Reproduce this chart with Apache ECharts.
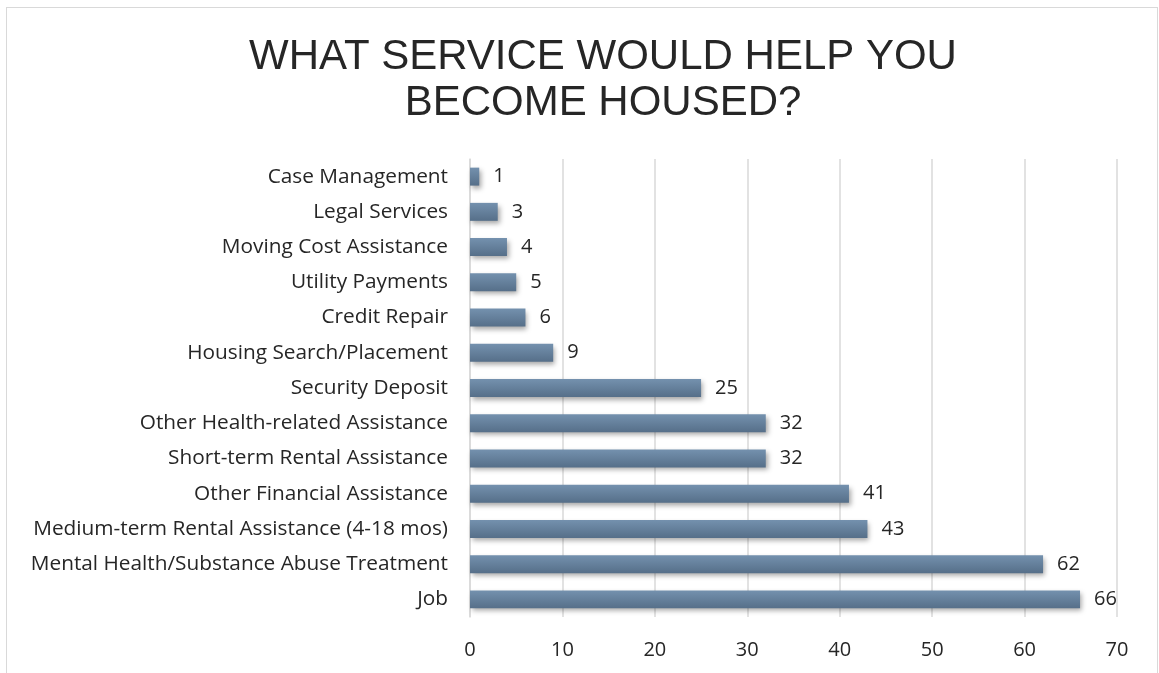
<!DOCTYPE html>
<html>
<head>
<meta charset="utf-8">
<script src="https://cdn.jsdelivr.net/npm/echarts@6/dist/echarts.min.js"></script>
<style>
html,body{margin:0;padding:0;background:#fff;}
#frame{position:absolute;left:6px;top:7px;width:1152px;height:680px;border:1px solid #d9d9d9;box-sizing:border-box;}
#c{position:absolute;left:0;top:0;width:1159px;height:673px;}
</style>
</head>
<body>
<div id="frame"></div>
<div id="c"></div>
<script>
const categories = [
  "Job",
  "Mental Health/Substance Abuse Treatment",
  "Medium-term Rental Assistance (4-18 mos)",
  "Other Financial Assistance",
  "Short-term Rental Assistance",
  "Other Health-related Assistance",
  "Security Deposit",
  "Housing Search/Placement",
  "Credit Repair",
  "Utility Payments",
  "Moving Cost Assistance",
  "Legal Services",
  "Case Management"
];
const values = [66, 62, 43, 41, 32, 32, 25, 9, 6, 5, 4, 3, 1];
const xTicks = [0, 10, 20, 30, 40, 50, 60, 70];

const chart = echarts.init(document.getElementById('c'));
chart.setOption({
  animation: false,
  title: {
    text: 'WHAT SERVICE WOULD HELP YOU\nBECOME HOUSED?',
    left: 598,
    textAlign: 'center',
    top: 29,
    textStyle: {
      fontFamily: 'Liberation Sans',
      fontWeight: 'normal',
      fontSize: 42,
      lineHeight: 46,
      color: '#262626'
    }
  },
  grid: { left: 470, right: 42, top: 159, bottom: 56 },
  xAxis: {
    type: 'value',
    min: xTicks[0],
    max: xTicks[xTicks.length - 1],
    interval: 10,
    axisLine: { show: false },
    axisTick: { show: false },
    splitLine: { lineStyle: { color: '#d9d9d9', width: 1.5 } },
    axisLabel: {
      margin: 23,
      fontFamily: 'Open Sans',
      fontSize: 20,
      color: '#262626'
    }
  },
  yAxis: {
    type: 'category',
    data: categories,
    axisLine: { show: true, lineStyle: { color: '#d9d9d9', width: 1.5 } },
    axisTick: { show: false },
    axisLabel: {
      margin: 22,
      fontFamily: 'Open Sans',
      fontSize: 20.8,
      color: '#262626'
    }
  },
  series: [{
    type: 'bar',
    data: values,
    barWidth: '51%',
    itemStyle: {
      color: new echarts.graphic.LinearGradient(0, 0, 0, 1, [
        { offset: 0, color: '#7491ae' },
        { offset: 1, color: '#566f89' }
      ]),
      shadowColor: 'rgba(0,0,0,0.35)',
      shadowBlur: 5,
      shadowOffsetX: 2,
      shadowOffsetY: 3
    },
    label: {
      show: true,
      position: 'right',
      distance: 14,
      fontFamily: 'Open Sans',
      fontSize: 20,
      color: '#262626'
    }
  }]
});
</script>
</body>
</html>
